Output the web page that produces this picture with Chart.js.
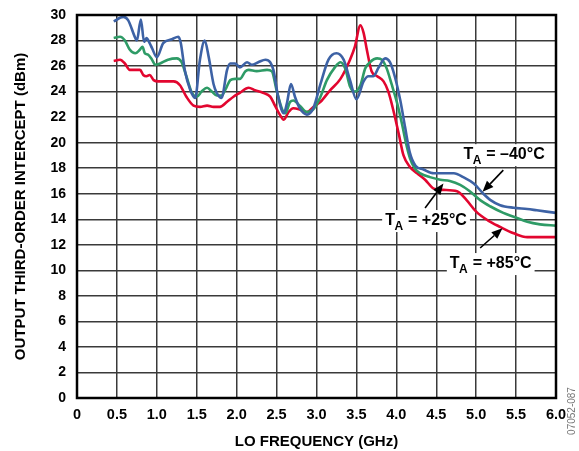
<!DOCTYPE html>
<html>
<head>
<meta charset="utf-8">
<script src="https://cdn.jsdelivr.net/npm/chart.js@4.4.0/dist/chart.umd.min.js"></script>
<style>
  html, body { margin: 0; padding: 0; background: #fff; }
  #wrap { width: 579px; height: 451px; }
</style>
</head>
<body>
<div id="wrap"><canvas id="ip3Chart" width="579" height="451"></canvas></div>
<script>
// LO frequency (GHz) and OIP3 (dBm), one pair of arrays per temperature
var freqM40 = [0.46,0.58,0.64,0.73,0.75,0.80,0.84,0.87,0.91,0.94,1.00,1.08,1.19,1.27,1.30,1.35,1.42,1.48,1.54,1.60,1.65,1.71,1.75,1.81,1.88,1.92,1.98,2.04,2.13,2.19,2.27,2.36,2.42,2.46,2.52,2.59,2.63,2.68,2.73,2.79,2.88,2.96,3.05,3.15,3.25,3.34,3.42,3.50,3.59,3.65,3.71,3.78,3.86,3.92,3.98,4.05,4.11,4.17,4.24,4.34,4.47,4.59,4.72,4.84,4.97,5.09,5.18,5.30,5.47,5.64,5.76,6.00];
var oip3M40 = [29.5,29.85,29.6,28.2,28.0,29.65,27.9,28.2,27.8,27.4,26.7,27.8,28.1,28.3,27.8,25.7,24.1,23.5,26.5,28.0,26.7,24.6,23.9,23.5,25.7,26.2,26.2,25.9,26.3,26.1,26.3,26.5,26.3,25.7,23.6,22.3,23.1,24.6,23.6,22.7,22.2,22.7,24.6,26.5,27.0,26.5,24.9,23.4,24.8,25.2,25.2,25.9,26.6,26.3,25.2,23.3,21.2,19.2,18.2,17.9,17.6,17.6,17.6,17.3,16.8,16.0,15.5,15.1,14.9,14.8,14.7,14.5];

var freqP25 = [0.46,0.54,0.60,0.66,0.73,0.79,0.82,0.85,0.89,0.94,0.98,1.04,1.14,1.25,1.31,1.37,1.44,1.50,1.56,1.63,1.69,1.75,1.81,1.87,1.92,1.98,2.04,2.11,2.15,2.25,2.38,2.44,2.50,2.57,2.61,2.67,2.71,2.79,2.88,2.96,3.05,3.13,3.23,3.30,3.36,3.42,3.48,3.55,3.61,3.67,3.76,3.82,3.88,3.94,4.01,4.07,4.12,4.17,4.23,4.30,4.42,4.55,4.67,4.80,4.92,5.05,5.18,5.34,5.47,5.64,5.80,6.00];
var oip3P25 = [28.2,28.3,28.0,27.3,27.0,27.3,27.5,27.0,26.9,26.5,26.1,26.2,26.5,26.6,26.3,25.2,23.9,23.6,24.0,24.3,24.0,23.7,23.7,24.3,24.9,25.0,25.0,25.6,25.7,25.6,25.7,25.6,24.1,22.6,22.3,23.2,23.3,22.9,22.4,22.6,23.6,24.9,25.9,26.3,25.8,24.4,24.0,24.5,25.8,26.3,26.6,26.5,25.8,24.6,23.1,21.5,20.0,18.8,18.0,17.6,17.3,17.1,17.0,16.7,16.2,15.5,15.0,14.5,14.2,13.8,13.6,13.5];

var freqP85 = [0.46,0.54,0.60,0.66,0.73,0.79,0.83,0.87,0.91,0.96,1.02,1.12,1.21,1.29,1.37,1.46,1.54,1.63,1.71,1.79,1.88,1.96,2.04,2.15,2.23,2.33,2.42,2.48,2.54,2.59,2.65,2.71,2.79,2.88,2.96,3.05,3.17,3.30,3.42,3.48,3.55,3.59,3.63,3.69,3.76,3.84,3.90,3.96,4.03,4.09,4.17,4.26,4.36,4.47,4.59,4.76,4.88,5.00,5.15,5.30,5.47,5.64,5.80,6.00];
var oip3P85 = [26.4,26.5,26.2,25.7,25.7,25.7,25.3,25.2,25.3,24.9,24.8,24.8,24.8,24.5,23.6,22.9,22.8,22.9,22.8,22.8,23.2,23.6,23.9,24.3,24.1,23.9,23.6,22.9,22.2,21.8,22.4,22.7,22.6,22.4,22.8,23.2,24.1,25.0,26.5,27.5,29.2,28.6,27.3,25.6,25.2,24.8,24.0,22.6,20.7,19.0,18.1,17.6,17.1,16.4,16.3,16.2,15.5,14.6,13.9,13.4,12.9,12.6,12.6,12.6];

// axis ticks
var xTicks = [0,0.5,1.0,1.5,2.0,2.5,3.0,3.5,4.0,4.5,5.0,5.5,6.0];
var yTicks = [0,2,4,6,8,10,12,14,16,18,20,22,24,26,28,30];

// callouts: label anchor + arrow (tail -> tip), all in GHz / dBm
var callouts = [
  { text: ' = \u201340\u00B0C', at: [4.84, 19.1], tail: [5.34, 17.85], tip: [5.08, 16.15] },
  { text: ' = +25\u00B0C',      at: [3.86, 13.94], tail: [4.36, 14.88], tip: [4.59, 16.8] },
  { text: ' = +85\u00B0C',      at: [4.67, 10.57], tail: [5.05, 11.75], tip: [5.33, 13.3] }
];

function toPoints(xs, ys) {
  var pts = [];
  for (var i = 0; i < xs.length; i++) pts.push({ x: xs[i], y: ys[i] });
  return pts;
}

var FONT = '"Liberation Sans", Arial, sans-serif';

function drawArrow(ctx, x1, y1, x2, y2) {
  var ang = Math.atan2(y2 - y1, x2 - x1);
  var hl = 11, hw = 4.5;
  ctx.strokeStyle = '#000';
  ctx.fillStyle = '#000';
  ctx.lineWidth = 1.6;
  ctx.beginPath();
  ctx.moveTo(x1, y1);
  ctx.lineTo(x2 - Math.cos(ang) * hl, y2 - Math.sin(ang) * hl);
  ctx.stroke();
  ctx.beginPath();
  ctx.moveTo(x2, y2);
  ctx.lineTo(x2 - Math.cos(ang) * hl - Math.sin(ang) * hw, y2 - Math.sin(ang) * hl + Math.cos(ang) * hw);
  ctx.lineTo(x2 - Math.cos(ang) * hl + Math.sin(ang) * hw, y2 - Math.sin(ang) * hl - Math.cos(ang) * hw);
  ctx.closePath();
  ctx.fill();
}

function drawTaLabel(ctx, x, y, rest) {
  ctx.textBaseline = 'alphabetic';
  ctx.textAlign = 'left';
  ctx.font = 'bold 16px ' + FONT;
  var wT = ctx.measureText('T').width;
  var wR = ctx.measureText(rest).width;
  ctx.font = 'bold 12px ' + FONT;
  var wA = ctx.measureText('A').width;
  ctx.fillStyle = '#fff';
  ctx.fillRect(x - 3, y - 10, wT + wA + wR + 6, 22);
  ctx.fillStyle = '#000';
  ctx.font = 'bold 16px ' + FONT;
  ctx.fillText('T', x, y + 5);
  ctx.fillText(rest, x + wT + wA, y + 5);
  ctx.font = 'bold 12px ' + FONT;
  ctx.fillText('A', x + wT - 0.5, y + 10);
}

var extrasPlugin = {
  id: 'extras',
  afterDraw: function(chart) {
    var ctx = chart.ctx;
    var a = chart.chartArea;
    var xs = chart.scales.x, ys = chart.scales.y;
    ctx.save();
    // full frame
    ctx.strokeStyle = '#000';
    ctx.lineWidth = 2.5;
    ctx.strokeRect(a.left, a.top, a.right - a.left, a.bottom - a.top);
    // callouts
    callouts.forEach(function(c) {
      drawArrow(ctx, xs.getPixelForValue(c.tail[0]), ys.getPixelForValue(c.tail[1]),
                xs.getPixelForValue(c.tip[0]), ys.getPixelForValue(c.tip[1]));
      drawTaLabel(ctx, xs.getPixelForValue(c.at[0]), ys.getPixelForValue(c.at[1]), c.text);
    });
    // figure id
    ctx.translate(chart.width - 7, a.bottom + 8);
    ctx.rotate(-Math.PI / 2);
    ctx.font = '10px ' + FONT;
    ctx.fillStyle = '#777';
    ctx.textAlign = 'center';
    ctx.textBaseline = 'middle';
    ctx.fillText('07052-087', -5, 0);
    ctx.restore();
  }
};

var ctx = document.getElementById('ip3Chart');
new Chart(ctx, {
  type: 'line',
  data: {
    datasets: [
      { label: 'TA = -40C', data: toPoints(freqM40, oip3M40), borderColor: '#3d62a5' },
      { label: 'TA = +25C', data: toPoints(freqP25, oip3P25), borderColor: '#2e9b66' },
      { label: 'TA = +85C', data: toPoints(freqP85, oip3P85), borderColor: '#e2062f' }
    ]
  },
  options: {
    responsive: false,
    animation: false,
    layout: { padding: { top: 15, right: 23, left: 0, bottom: 0 } },
    elements: {
      line: { borderWidth: 2.6, cubicInterpolationMode: 'monotone', fill: false },
      point: { radius: 0, hitRadius: 0 }
    },
    plugins: { legend: { display: false }, tooltip: { enabled: false } },
    scales: {
      x: {
        type: 'linear',
        min: 0, max: 6,
        afterBuildTicks: function(s) { s.ticks = xTicks.map(function(v) { return { value: v }; }); },
        afterFit: function(s) { s.height = 53; s.paddingLeft = 0; s.paddingRight = 0; },
        ticks: {
          padding: 8,
          color: '#000',
          font: { family: FONT, size: 14.5, weight: 'bold' },
          callback: function(v) { return v === 0 ? '0' : Number(v).toFixed(1); }
        },
        grid: { color: '#3a3a3a', lineWidth: 1.5, drawTicks: false },
        border: { display: false },
        title: {
          display: true, text: 'LO FREQUENCY (GHz)', color: '#000',
          font: { family: FONT, size: 15, weight: 'bold' },
          padding: { top: 5, bottom: 0 }
        }
      },
      y: {
        min: 0, max: 30,
        afterBuildTicks: function(s) { s.ticks = yTicks.map(function(v) { return { value: v }; }); },
        afterFit: function(s) { s.width = 77; s.paddingTop = 0; s.paddingBottom = 0; },
        ticks: {
          padding: 11,
          color: '#000',
          font: { family: FONT, size: 14, weight: 'bold' }
        },
        grid: { color: '#3a3a3a', lineWidth: 1.5, drawTicks: false },
        border: { display: false },
        title: {
          display: true, text: 'OUTPUT THIRD-ORDER INTERCEPT (dBm)', color: '#000',
          font: { family: FONT, size: 15, weight: 'bold' },
          padding: { top: 12, bottom: 0 }
        }
      }
    }
  },
  plugins: [extrasPlugin]
});
</script>
</body>
</html>
